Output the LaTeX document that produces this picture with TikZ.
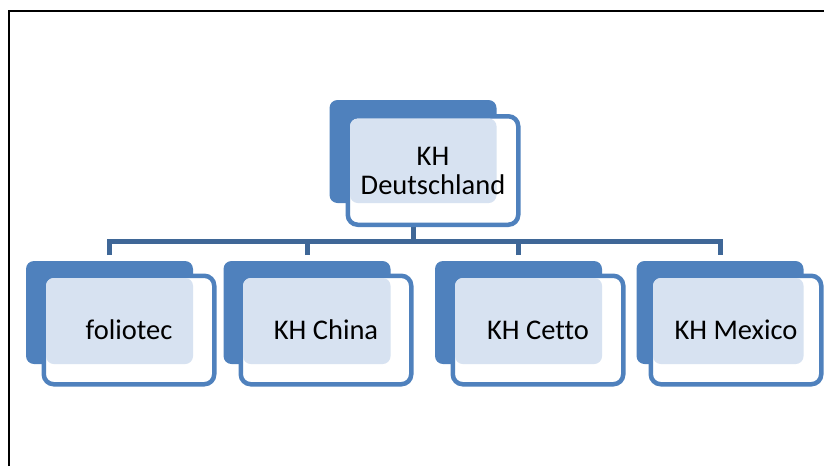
\documentclass[tikz,border=0pt]{standalone}
\usepackage{fontspec}
\setmainfont{Carlito}[Ligatures=CommonOff]
\usetikzlibrary{backgrounds}
\definecolor{boxblue}{HTML}{4F81BD}
\definecolor{linkblue}{HTML}{3F6797}
\definecolor{tint}{HTML}{D7E2F1}
\tikzset{
  backbox/.style={rectangle, rounded corners=8pt, fill=boxblue, draw=none,
    minimum width=167pt, minimum height=103pt, inner sep=0pt, outer sep=0pt},
  frontbox/.style={rectangle, rounded corners=10pt, fill=white, draw=boxblue, line width=4.5pt,
    minimum width=170.5pt, minimum height=108.5pt, inner sep=0pt},
  boxtext/.style={font=\fontsize{28.5}{29}\selectfont, align=center, text=black, inner sep=0pt},
  link/.style={draw=linkblue, line width=5pt},
  framestyle/.style={draw=black, line width=2pt}
}
\newcommand\orgunit[6]{%
  \node[backbox] (#1-back) at (#2,#3) {};
  \node[frontbox] (#1) at (#4,#5) {};
  \fill[tint, rounded corners=7.75pt] ([xshift=4.5pt,yshift=-4.5pt]#1.north west) rectangle (#1-back.south east);
  \node[boxtext] (#1-text) at (#1.center) {#6};
}
\begin{document}
\begin{tikzpicture}[x=1pt,y=-1pt]
  \useasboundingbox (0,0) rectangle (824,466);
  \draw[framestyle] (8.5,466) -- (8.5,10.5) -- (824,10.5);

  \orgunit{kh}{413}{151.5}{433}{170.5}{KH\\Deutschland}
  \orgunit{folio}{109.5}{312.5}{129}{330}{foliotec}
  \orgunit{china}{307}{312.5}{326}{330}{KH China}
  \orgunit{cetto}{518.5}{312.5}{538}{330}{KH Cetto}
  \orgunit{mexico}{720}{312.5}{736}{330}{KH Mexico}

  \coordinate (bus) at (0,241.5);
  \begin{pgfonlayer}{background}
    \draw[link] ([yshift=6pt]folio-back.north) -- (folio-back.north |- bus)
      -- (mexico-back.north |- bus) -- ([yshift=6pt]mexico-back.north);
    \draw[link] (kh-back.south) -- (kh-back.south |- bus);
    \draw[link] ([yshift=6pt]china-back.north) -- (china-back.north |- bus);
    \draw[link] ([yshift=6pt]cetto-back.north) -- (cetto-back.north |- bus);
  \end{pgfonlayer}
\end{tikzpicture}
\end{document}
